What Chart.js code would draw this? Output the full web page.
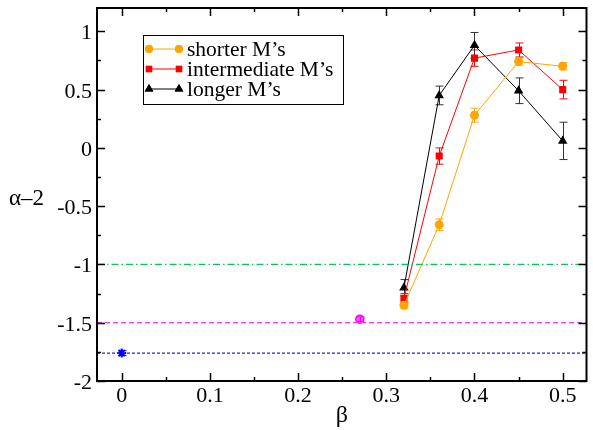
<!DOCTYPE html>
<html>
<head>
<meta charset="utf-8">
<script src="https://cdn.jsdelivr.net/npm/chart.js@4.4.0/dist/chart.umd.min.js"></script>
<style>
  html, body { margin: 0; padding: 0; background: #fff; }
  #wrap { width: 593px; height: 430px; }
</style>
</head>
<body>
<div id="wrap"><canvas id="chart"></canvas></div>
<script>
// beta values for the three M series
const betas = [0.32, 0.36, 0.40, 0.45, 0.50];

const shorterY = [-1.35, -0.66, 0.28, 0.74, 0.70];
const shorterErr = [0.03, 0.05, 0.06, 0.03, 0.03];

const intermediateY = [-1.29, -0.07, 0.77, 0.84, 0.50];
const intermediateErr = [0.04, 0.07, 0.07, 0.06, 0.08];

const longerY = [-1.20, 0.45, 0.88, 0.49, 0.06];
const longerErr = [0.07, 0.08, 0.11, 0.11, 0.16];

// single reference points
const blueX = [0], blueY = [-1.76], blueErr = [0.02];
const magentaX = [0.27], magentaY = [-1.47], magentaErr = [0.02];

// horizontal reference levels
const levelGreen = -1.0;
const levelMagenta = -1.5;
const levelBlue = -1.76;

const xMin = -0.028, xMax = 0.527;
const yMin = -2, yMax = 1.2;
const xTicks = [0, 0.1, 0.2, 0.3, 0.4, 0.5];
const yTicks = [-2, -1.5, -1, -0.5, 0, 0.5, 1];
const xMinorStep = 0.05, yMinorStep = 0.25;

const FONT = "'Liberation Serif', serif";
Chart.defaults.font.family = FONT;
Chart.defaults.color = '#000';

function pts(xs, ys) {
    return xs.map((x, i) => ({ x: x, y: ys[i] }));
}

function hline(y, color, dash) {
    return {
        label: '',
        data: [{ x: xMin, y: y }, { x: xMax, y: y }],
        showLine: true,
        borderColor: color,
        borderWidth: 1.2,
        borderDash: dash,
        pointRadius: 0,
        inLegend: false
    };
}

function series(label, ys, errs, color, style, radius) {
    return {
        label: label,
        data: pts(betas, ys),
        errors: errs,
        showLine: true,
        borderColor: color,
        backgroundColor: color,
        borderWidth: 1,
        pointStyle: style,
        pointRadius: radius,
        pointBorderWidth: 0,
        inLegend: true
    };
}

// draw error bars, inward ticks, tick labels, frame, y title and legend
const decorations = {
    id: 'decorations',
    beforeDatasetsDraw(chart) {
        const ctx = chart.ctx;
        const xs = chart.scales.x, ys = chart.scales.y;
        ctx.save();
        chart.data.datasets.forEach(ds => {
            if (!ds.errors) return;
            ctx.strokeStyle = ds.errColor || ds.borderColor;
            ctx.lineWidth = 1;
            ds.data.forEach((p, i) => {
                const px = Math.round(xs.getPixelForValue(p.x)) + 0.5;
                const y1 = ys.getPixelForValue(p.y + ds.errors[i]);
                const y2 = ys.getPixelForValue(p.y - ds.errors[i]);
                ctx.beginPath();
                ctx.moveTo(px, y1); ctx.lineTo(px, y2);
                ctx.moveTo(px - 4, y1); ctx.lineTo(px + 4, y1);
                ctx.moveTo(px - 4, y2); ctx.lineTo(px + 4, y2);
                ctx.stroke();
            });
        });
        ctx.restore();
    },
    afterDraw(chart) {
        const ctx = chart.ctx;
        const a = chart.chartArea;
        const xs = chart.scales.x, ys = chart.scales.y;
        ctx.save();
        ctx.strokeStyle = '#000';
        ctx.lineWidth = 1.5;
        // ticks
        ctx.beginPath();
        for (let v = 0; v <= xMax + 1e-9; v += xMinorStep) {
            const major = Math.abs(v * 10 - Math.round(v * 10)) < 1e-6;
            const len = major ? 8 : 4;
            const px = Math.round(xs.getPixelForValue(v)) + 0.5;
            ctx.moveTo(px, a.bottom); ctx.lineTo(px, a.bottom - len);
            ctx.moveTo(px, a.top); ctx.lineTo(px, a.top + len);
        }
        for (let v = yMin; v <= yMax + 1e-9; v += yMinorStep) {
            const major = Math.abs(v * 2 - Math.round(v * 2)) < 1e-6;
            const len = major ? 8 : 4;
            const py = Math.round(ys.getPixelForValue(v)) + 0.5;
            ctx.moveTo(a.left, py); ctx.lineTo(a.left + len, py);
            ctx.moveTo(a.right, py); ctx.lineTo(a.right - len, py);
        }
        ctx.stroke();
        // frame
        ctx.lineWidth = 2;
        ctx.strokeRect(a.left, a.top, a.right - a.left, a.bottom - a.top);

        // tick labels
        ctx.fillStyle = '#000';
        ctx.font = '22px ' + FONT;
        ctx.textBaseline = 'alphabetic';
        ctx.textAlign = 'center';
        xs.ticks.forEach(t => {
            ctx.fillText(String(t.value), xs.getPixelForValue(t.value), a.bottom + 21);
        });
        ctx.textAlign = 'right';
        ys.ticks.forEach(t => {
            ctx.fillText(String(t.value), a.left - 5, ys.getPixelForValue(t.value) + 8);
        });

        // y axis title, horizontal
        ctx.font = '23px ' + FONT;
        ctx.textAlign = 'left';
        ctx.textBaseline = 'middle';
        ctx.fillText('\u03b1\u20132', 9, 199);

        // legend box
        const bx = 143, by = 35, bw = 200, bh = 69;
        ctx.lineWidth = 1;
        ctx.strokeStyle = '#000';
        ctx.fillStyle = '#fff';
        ctx.fillRect(bx, by, bw, bh);
        ctx.strokeRect(bx + 0.5, by + 0.5, bw, bh);
        const items = chart.data.datasets.filter(d => d.inLegend);
        ctx.font = '21.5px ' + FONT;
        items.forEach((ds, i) => {
            const ly = 49 + i * 20;
            ctx.strokeStyle = ds.borderColor;
            ctx.beginPath();
            ctx.moveTo(149, ly); ctx.lineTo(179, ly);
            ctx.stroke();
            [149, 179].forEach(mx => {
                ctx.fillStyle = ds.backgroundColor;
                Chart.helpers.drawPoint(ctx, { pointStyle: ds.pointStyle, radius: ds.pointRadius - 0.5, borderWidth: 0 }, mx, ly);
                ctx.fill();
            });
            ctx.fillStyle = '#000';
            ctx.textBaseline = 'middle';
            ctx.fillText(ds.label, 187, ly + 1);
        });
        ctx.restore();
    }
};

const datasets = [
    hline(levelGreen, '#00cc55', [7, 3, 1.5, 3]),
    hline(levelMagenta, '#ff33ff', [5, 3]),
    hline(levelBlue, '#2222ee', [3, 2]),
    {
        label: '',
        data: pts(blueX, blueY),
        errors: blueErr,
        borderColor: '#0000ff',
        backgroundColor: '#0000ff',
        pointStyle: 'star',
        pointRadius: 4.5,
        pointBorderWidth: 2,
        showLine: false,
        inLegend: false
    },
    {
        label: '',
        data: pts(magentaX, magentaY),
        errors: magentaErr,
        borderColor: '#ff00ff',
        backgroundColor: 'rgba(255,0,255,0.6)',
        pointStyle: 'circle',
        pointRadius: 4,
        pointBorderWidth: 1.5,
        showLine: false,
        inLegend: false
    },
    series("shorter M\u2019s", shorterY, shorterErr, '#ffa500', 'circle', 4.5),
    series("intermediate M\u2019s", intermediateY, intermediateErr, '#ff0000', 'rect', 5),
    series("longer M\u2019s", longerY, longerErr, '#000000', 'triangle', 5.5)
];
datasets[7].errColor = '#333333';

new Chart(document.getElementById('chart'), {
    type: 'scatter',
    data: { datasets: datasets },
    plugins: [decorations],
    options: {
        responsive: true,
        maintainAspectRatio: false,
        animation: false,
        layout: { padding: { top: 8, right: 0, left: 0, bottom: 0 } },
        plugins: {
            legend: { display: false },
            tooltip: { enabled: false }
        },
        scales: {
            x: {
                type: 'linear',
                min: xMin,
                max: xMax,
                afterBuildTicks: s => { s.ticks = xTicks.map(v => ({ value: v })); },
                afterFit: s => { s.height = 49; },
                grid: { display: false, drawTicks: false },
                border: { display: false },
                ticks: { display: false },
                title: {
                    display: true,
                    text: '\u03b2',
                    color: '#000',
                    font: { family: FONT, size: 24 },
                    padding: { top: 0, bottom: 0 }
                }
            },
            y: {
                type: 'linear',
                min: yMin,
                max: yMax,
                afterBuildTicks: s => { s.ticks = yTicks.map(v => ({ value: v })); },
                afterFit: s => { s.width = 97; },
                grid: { display: false, drawTicks: false },
                border: { display: false },
                ticks: { display: false }
            }
        }
    }
});
</script>
</body>
</html>
